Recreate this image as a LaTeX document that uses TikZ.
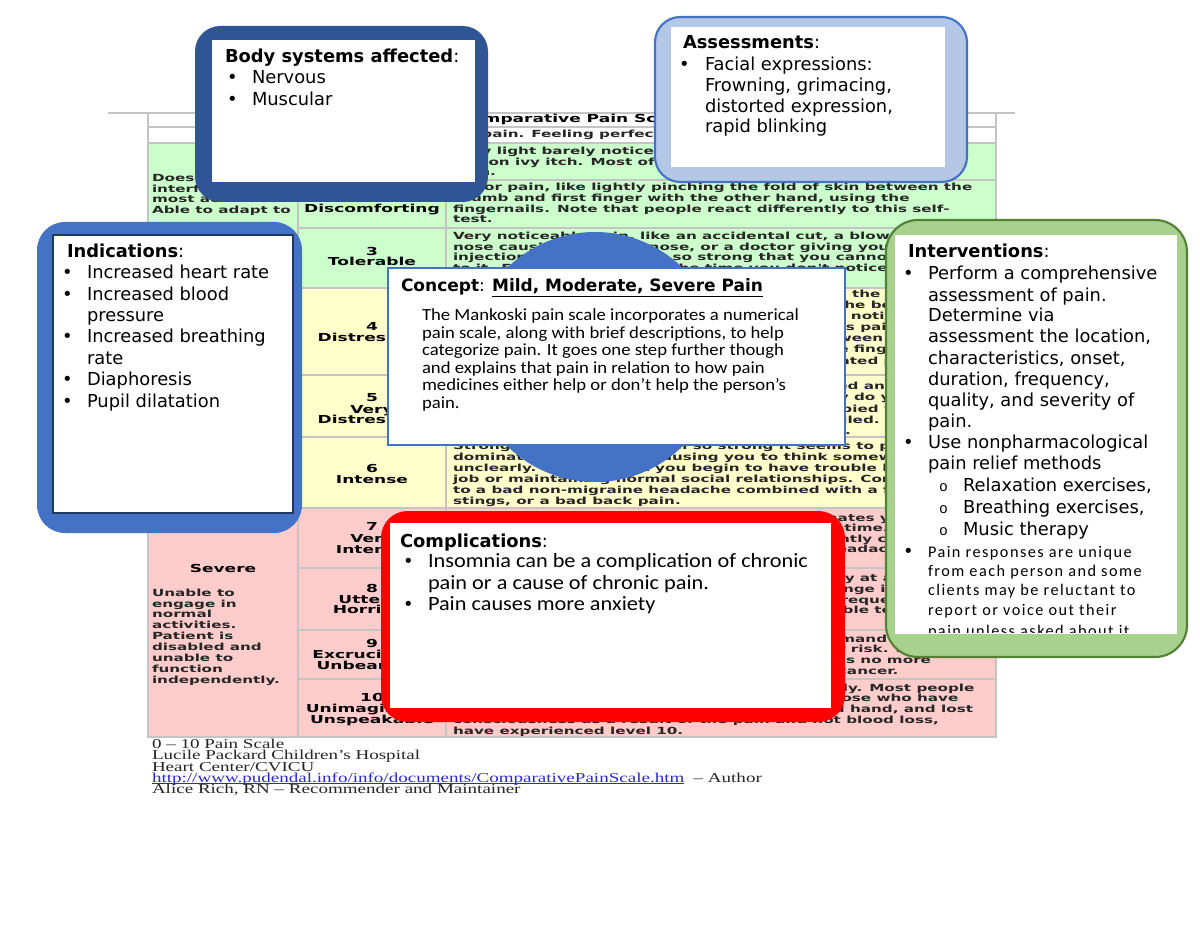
\documentclass[tikz,border=0pt]{standalone}
\usepackage{fontspec}
\usepackage{graphicx}
\setmainfont{DejaVu Sans}
\newfontfamily\tabf[FakeStretch=1.55]{DejaVu Sans}
\newfontfamily\serf[FakeStretch=1.4]{Liberation Serif}
\newfontfamily\carl[FakeStretch=1.1]{Carlito}
\newfontfamily\carlsp[LetterSpace=9]{Carlito}
\newfontfamily\monof{Liberation Mono}
\definecolor{cblue}{HTML}{4472C4}
\definecolor{bodyblue}{HTML}{2F5597}
\definecolor{assessfill}{HTML}{B4C7E7}
\definecolor{intgreen}{HTML}{A9D18E}
\definecolor{intdark}{HTML}{538135}
\definecolor{navy}{HTML}{1F3864}
\definecolor{tgreen}{HTML}{CCFFCC}
\definecolor{tyellow}{HTML}{FFFFCC}
\definecolor{tpink}{HTML}{FFCCCC}
\definecolor{tgrid}{HTML}{C4C4C4}
\definecolor{urlblue}{HTML}{2A2AC8}
\newcounter{nn}
\newcommand\tx[4][]{\stepcounter{nn}\node[txt,#1] (t\arabic{nn}) at (#2,#3) {#4};}
\newcommand\tc[4][]{\stepcounter{nn}\node[ctr,#1] (t\arabic{nn}) at (#2,#3) {#4};}
\tikzset{
 txt/.style={anchor=base west, inner sep=0pt, outer sep=0pt},
 ctr/.style={anchor=base, inner sep=0pt, outer sep=0pt},
 boxf/.style={font=\fontsize{13.4}{16}\selectfont},
 cplf/.style={font=\carl\fontsize{15.2}{18}\selectfont},
 conf/.style={font=\carl\fontsize{12.75}{15}\selectfont},
 smf/.style={font=\carlsp\fontsize{12.2}{14}\selectfont},
 subb/.style={font=\monof\fontsize{11}{14}\selectfont},
 tabd/.style={font=\tabf\bfseries\fontsize{7.35}{9}\selectfont, text=black!85},
 tabl/.style={font=\tabf\bfseries\fontsize{8.25}{10}\selectfont, text=black},
 foot/.style={font=\serf\fontsize{10.2}{11}\selectfont, text=black!85},
 cell/.style={draw=tgrid, line width=0.9pt},
}
\begin{document}
\begin{tikzpicture}[x=0.75pt,y=-0.75pt]
\useasboundingbox[fill=white] (0,0) rectangle (1200,927);
% ---------------- table ----------------
\draw[tgrid, line width=1.1pt] (108,113) -- (1015,113);
\path[cell, fill=white] (148,113) rectangle (996,127);
\path[cell, fill=white] (148,127) rectangle (298,143);
\path[cell, fill=white] (298,127) rectangle (446,143);
\path[cell, fill=white] (446,127) rectangle (996,143);
% green
\path[cell, fill=tgreen] (148,143) rectangle (298,288);
\foreach \a/\b in {143/180,180/228,228/288}{
  \path[cell, fill=tgreen] (298,\a) rectangle (446,\b);
  \path[cell, fill=tgreen] (446,\a) rectangle (996,\b);}
% yellow
\path[cell, fill=tyellow] (148,288) rectangle (298,508);
\foreach \a/\b in {288/375,375/437,437/508}{
  \path[cell, fill=tyellow] (298,\a) rectangle (446,\b);
  \path[cell, fill=tyellow] (446,\a) rectangle (996,\b);}
% pink
\path[cell, fill=tpink] (148,508) rectangle (298,737);
\foreach \a/\b in {508/568,568/630,630/679,679/737}{
  \path[cell, fill=tpink] (298,\a) rectangle (446,\b);
  \path[cell, fill=tpink] (446,\a) rectangle (996,\b);}
% header texts
\tc[tabl]{572}{123}{Comparative Pain Scale}
\tx[tabd]{453}{138}{No pain. Feeling perfectly normal.}
% column 1
\tx[tabd]{152}{182}{Does not}
\tx[tabd]{152}{192.7}{interfere with}
\tx[tabd]{152}{203}{most activities.}
\tx[tabd]{152}{214}{Able to adapt to}
\tc[tabl]{223}{572}{Severe}
\tx[tabd]{152}{596}{Unable to}
\tx[tabd]{152}{607}{engage in}
\tx[tabd]{152}{617}{normal}
\tx[tabd]{152}{628}{activities.}
\tx[tabd]{152}{639}{Patient is}
\tx[tabd]{152}{650}{disabled and}
\tx[tabd]{152}{661}{unable to}
\tx[tabd]{152}{672}{function}
\tx[tabd]{152}{683}{independently.}
% column 2
\tc[tabl]{372}{202}{2}
\tc[tabl]{372}{213}{Discomforting}
\tc[tabl]{372}{256}{3}
\tc[tabl]{372}{266}{Tolerable}
\tc[tabl]{372}{331}{4}
\tc[tabl]{372}{342}{Distressing}
\tc[tabl]{372}{402}{5}
\tc[tabl]{372}{413}{Very}
\tc[tabl]{372}{423}{Distressing}
\tc[tabl]{372}{472}{6}
\tc[tabl]{372}{483}{Intense}
\tc[tabl]{372}{530}{7}
\tc[tabl]{372}{542}{Very}
\tc[tabl]{372}{553}{Intense}
\tc[tabl]{372}{592}{8}
\tc[tabl]{372}{603}{Utterly}
\tc[tabl]{372}{613}{Horrible}
\tc[tabl]{372}{647}{9}
\tc[tabl]{372}{658}{Excruciating}
\tc[tabl]{372}{669}{Unbearable}
\tc[tabl]{372}{701}{10}
\tc[tabl]{372}{712}{Unimaginable}
\tc[tabl]{372}{723}{Unspeakable}
% column 3
\tx[tabd]{453}{155}{Very light barely noticeable pain, like a mosquito bite or a}
\tx[tabd]{453}{165.5}{poison ivy itch. Most of the time you never think about the}
\tx[tabd]{453}{176}{pain.}
\tx[tabd]{453}{191}{Minor pain, like lightly pinching the fold of skin between the}
\tx[tabd]{453}{202}{thumb and first finger with the other hand, using the}
\tx[tabd]{453}{212.5}{fingernails. Note that people react differently to this self-}
\tx[tabd]{453}{223}{test.}
\tx[tabd]{453}{240}{Very noticeable pain, like an accidental cut, a blow to the}
\tx[tabd]{453}{250.5}{nose causing a bloody nose, or a doctor giving you an}
\tx[tabd]{453}{261}{injection. The pain is not so strong that you cannot get used}
\tx[tabd]{453}{271.5}{to it. Eventually, most of the time you don't notice the pain.}
\tx[tabd]{453}{298}{Strong, deep pain, like an average toothache, the initial pain}
\tx[tabd]{453}{309}{from a bee sting, or minor trauma to part of the body, such}
\tx[tabd]{453}{320}{as stubbing your toe real hard. So strong you notice the pain}
\tx[tabd]{453}{331}{all the time and cannot completely adapt. This pain level can}
\tx[tabd]{453}{342}{be simulated by pinching the fold of skin between the thumb}
\tx[tabd]{453}{353}{and first finger with the other hand, using the fingernails,}
\tx[tabd]{453}{364}{and squeezing real hard. Note how the simulated pain is}
\tx[tabd]{453}{390}{Strong, deep, piercing pain, such as a sprained ankle when you}
\tx[tabd]{453}{401}{stand on it wrong, or mild back pain. Not only do you notice}
\tx[tabd]{453}{412}{the pain all the time, you are now so preoccupied with}
\tx[tabd]{453}{423}{managing it that you normal lifestyle is curtailed.}
\tx[tabd]{453}{434}{Temporary personality disorders are frequent.}
\tx[tabd]{453}{449}{Strong, deep, piercing pain so strong it seems to partially}
\tx[tabd]{453}{460}{dominate your senses, causing you to think somewhat}
\tx[tabd]{453}{471}{unclearly. At this point you begin to have trouble holding a}
\tx[tabd]{453}{482}{job or maintaining normal social relationships. Comparable}
\tx[tabd]{453}{493}{to a bad non-migraine headache combined with a few bee}
\tx[tabd]{453}{504}{stings, or a bad back pain.}
\tx[tabd]{453}{521}{Same as 6 except the pain completely dominates your senses,}
\tx[tabd]{453}{531}{causing you to think unclearly about half the time. At this}
\tx[tabd]{453}{542}{point you are effectively disabled and frequently cannot live}
\tx[tabd]{453}{552}{alone. Comparable to an average migraine headache.}
\tx[tabd]{453}{581}{Pain so intense you can no longer think clearly at all, and}
\tx[tabd]{453}{592}{have often undergone severe personality change if the pain}
\tx[tabd]{453}{603}{has been present for a long time. Suicide is frequently}
\tx[tabd]{453}{613}{contemplated and sometimes tried. Comparable to childbirth}
\tx[tabd]{453}{642}{Pain so intense you cannot tolerate it and demand pain-killers}
\tx[tabd]{453}{652}{or surgery, no matter what the side effects or risk. If this}
\tx[tabd]{453}{663}{doesn't work, suicide is frequent since there is no more}
\tx[tabd]{453}{674}{joy in life whatsoever. Comparable to throat cancer.}
\tx[tabd]{453}{691}{Pain so intense you will go unconscious shortly. Most people}
\tx[tabd]{453}{701}{have never experienced this level of pain. Those who have}
\tx[tabd]{453}{712}{suffered a severe accident, such as a crushed hand, and lost}
\tx[tabd]{453}{723}{consciousness as a result of the pain and not blood loss,}
\tx[tabd]{453}{734}{have experienced level 10.}
% footer
\tx[foot]{152}{748}{0 – 10 Pain Scale}
\tx[foot]{152}{759.5}{Lucile Packard Children’s Hospital}
\tx[foot]{152}{771}{Heart Center/CVICU}
\node[txt, foot, text=urlblue] (url) at (152,782) {http://www.pudendal.info/info/documents/ComparativePainScale.htm};
\node[txt, foot] (author) at ([xshift=7pt]url.base east) {– Author};
\draw[urlblue, line width=0.7pt] ([yshift=-1.2pt]url.base west) -- ([yshift=-1.2pt]url.base east);
\tx[foot]{152}{793.5}{Alice Rich, RN – Recommender and Maintainer}
% ---------------- Body systems ----------------
\path[fill=bodyblue, rounded corners=19pt] (195,26) rectangle (488,202);
\path[fill=white] (212,40) rectangle (475,182);
\tx[boxf]{225}{63}{\textbf{Body systems affected}:}
\tx[boxf]{227}{84}{•}\tx[boxf]{252}{84}{Nervous}
\tx[boxf]{227}{106}{•}\tx[boxf]{252}{106}{Muscular}
% ---------------- Assessments ----------------
\path[fill=assessfill, draw=cblue, line width=1.6pt, rounded corners=19pt] (655,17) rectangle (967,182);
\path[fill=white] (671,27) rectangle (945,167);
\tx[boxf]{683}{49}{\textbf{Assessments}:}
\tx[boxf]{679}{71}{•}
\tx[boxf]{705}{71}{Facial expressions:}
\tx[boxf]{705}{92}{Frowning, grimacing,}
\tx[boxf]{705}{113}{distorted expression,}
\tx[boxf]{705}{133}{rapid blinking}
% ---------------- Indications ----------------
\path[fill=cblue, rounded corners=21pt] (37,222) rectangle (302,533);
\path[fill=white, draw=navy, line width=0.8pt] (53,235) rectangle (293,513);
\tx[boxf]{67}{258}{\textbf{Indications}:}
\tx[boxf]{62}{279}{•}\tx[boxf]{87}{279}{Increased heart rate}
\tx[boxf]{62}{300.5}{•}\tx[boxf]{87}{300.5}{Increased blood}
\tx[boxf]{87}{321.5}{pressure}
\tx[boxf]{62}{343}{•}\tx[boxf]{87}{343}{Increased breathing}
\tx[boxf]{87}{364}{rate}
\tx[boxf]{62}{385.5}{•}\tx[boxf]{87}{385.5}{Diaphoresis}
\tx[boxf]{62}{407}{•}\tx[boxf]{87}{407}{Pupil dilatation}
% ---------------- Interventions ----------------
\path[fill=intgreen, draw=intdark, line width=1.6pt, rounded corners=24pt] (886,220) rectangle (1187,657);
\path[fill=white] (895,235) rectangle (1177,634);
\begin{scope}
\clip (895,235) rectangle (1177,632);
\tx[boxf]{908}{258}{\textbf{Interventions}:}
\tx[boxf]{903}{280}{•}
\tx[boxf]{928}{280}{Perform a comprehensive}
\tx[boxf]{928}{301.5}{assessment of pain.}
\tx[boxf]{928}{322}{Determine via}
\tx[boxf]{928}{343}{assessment the location,}
\tx[boxf]{928}{364}{characteristics, onset,}
\tx[boxf]{928}{385}{duration, frequency,}
\tx[boxf]{928}{406.5}{quality, and severity of}
\tx[boxf]{928}{427}{pain.}
\tx[boxf]{903}{448}{•}
\tx[boxf]{928}{448}{Use nonpharmacological}
\tx[boxf]{928}{469}{pain relief methods}
\tx[subb]{939}{491}{o}\tx[boxf]{963}{491}{Relaxation exercises,}
\tx[subb]{939}{513}{o}\tx[boxf]{963}{513}{Breathing exercises,}
\tx[subb]{939}{535}{o}\tx[boxf]{963}{535}{Music therapy}
\tx[boxf]{903}{557}{•}
\tx[smf]{928}{557}{Pain responses are unique}
\tx[smf]{928}{576}{from each person and some}
\tx[smf]{928}{595.5}{clients may be reluctant to}
\tx[smf]{928}{615}{report or voice out their}
\tx[smf]{928}{636}{pain unless asked about it}
\end{scope}
% ---------------- Concept ----------------
\path[fill=cblue] (595,357) circle[radius=93.75pt];
\path[fill=white, draw=cblue, line width=1.6pt] (388,268) rectangle (845,445);
\tx[font=\fontsize{12.75}{15}\selectfont]{401}{292}{\textbf{Concept}: \textbf{\underline{Mild, Moderate, Severe Pain}}}
\tx[conf]{422}{321}{The Mankoski pain scale incorporates a numerical}
\tx[conf]{422}{338.5}{pain scale, along with brief descriptions, to help}
\tx[conf]{422}{356}{categorize pain. It goes one step further though}
\tx[conf]{422}{373.5}{and explains that pain in relation to how pain}
\tx[conf]{422}{391}{medicines either help or don’t help the person’s}
\tx[conf]{422}{408.5}{pain.}
% ---------------- Complications ----------------
\path[fill=red, rounded corners=20pt] (381,511) rectangle (845,722);
\path[fill=white] (390,523) rectangle (831,708);
\tx[boxf]{400}{547}{\textbf{Complications}:}
\tx[boxf]{403}{567}{•}\tx[cplf]{428}{567}{Insomnia can be a complication of chronic}
\tx[cplf]{428}{589}{pain or a cause of chronic pain.}
\tx[boxf]{403}{610}{•}\tx[cplf]{428}{610}{Pain causes more anxiety}
\end{tikzpicture}
\end{document}
